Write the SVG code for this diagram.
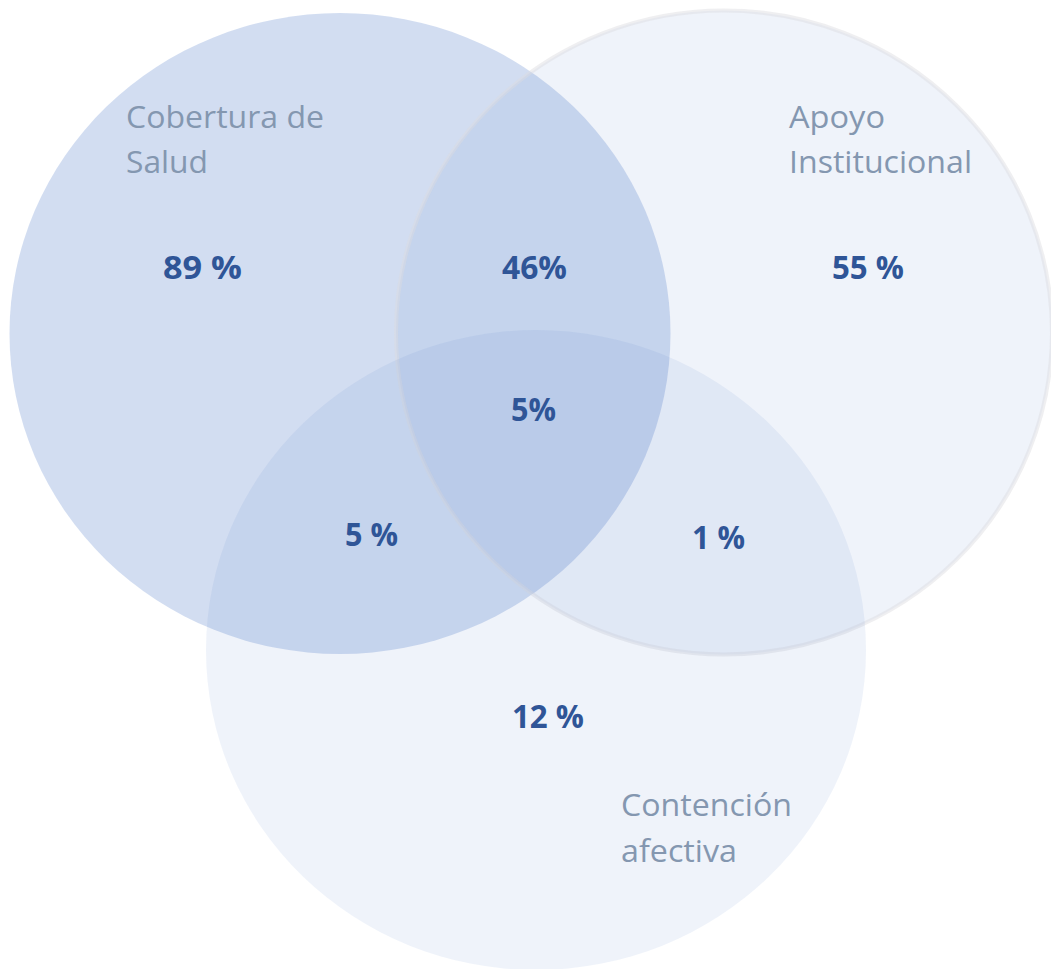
<svg xmlns="http://www.w3.org/2000/svg" width="1051" height="969" viewBox="0 0 1051 969">
<style>
.lbl{font-family:"Open Sans","Liberation Sans",sans-serif;font-size:31px;fill:#8497B0}
.num{font-family:"Open Sans","Liberation Sans",sans-serif;font-size:32px;font-weight:bold;fill:#2F5597}
</style>
<rect width="1051" height="969" fill="#FFFFFF"/>
<g id="salud">
<ellipse cx="340" cy="333.5" rx="330.5" ry="320.5" fill="#4472C4" fill-opacity="0.24"/>
</g>
<g id="apoyo">
<ellipse cx="724" cy="332.5" rx="328" ry="322" fill="#4472C4" fill-opacity="0.085" stroke="#DCDCE0" stroke-opacity="0.45" stroke-width="4"/>
</g>
<g id="contencion">
<ellipse cx="536" cy="650" rx="330" ry="320" fill="#4472C4" fill-opacity="0.085"/>
</g>
<g id="labels">
<text class="lbl" x="126" y="128" textLength="198" lengthAdjust="spacingAndGlyphs">Cobertura de</text>
<text class="lbl" x="126" y="173" textLength="82" lengthAdjust="spacingAndGlyphs">Salud</text>
<text class="lbl" x="789" y="128" textLength="96" lengthAdjust="spacingAndGlyphs">Apoyo</text>
<text class="lbl" x="789" y="173" textLength="183" lengthAdjust="spacingAndGlyphs">Institucional</text>
<text class="lbl" x="621" y="816" textLength="171" lengthAdjust="spacingAndGlyphs">Contención</text>
<text class="lbl" x="621" y="862" textLength="116" lengthAdjust="spacingAndGlyphs">afectiva</text>
</g>
<g id="values">
<text class="num" x="163" y="279" textLength="79" lengthAdjust="spacingAndGlyphs">89 %</text>
<text class="num" x="502" y="279" textLength="65" lengthAdjust="spacingAndGlyphs">46%</text>
<text class="num" x="832" y="279" textLength="72" lengthAdjust="spacingAndGlyphs">55 %</text>
<text class="num" x="511" y="421" textLength="45" lengthAdjust="spacingAndGlyphs">5%</text>
<text class="num" x="345" y="546" textLength="53" lengthAdjust="spacingAndGlyphs">5 %</text>
<text class="num" x="692" y="549" textLength="53" lengthAdjust="spacingAndGlyphs">1 %</text>
<text class="num" x="512" y="728" textLength="72" lengthAdjust="spacingAndGlyphs">12 %</text>
</g>
<g id="connectors"></g>
</svg>
